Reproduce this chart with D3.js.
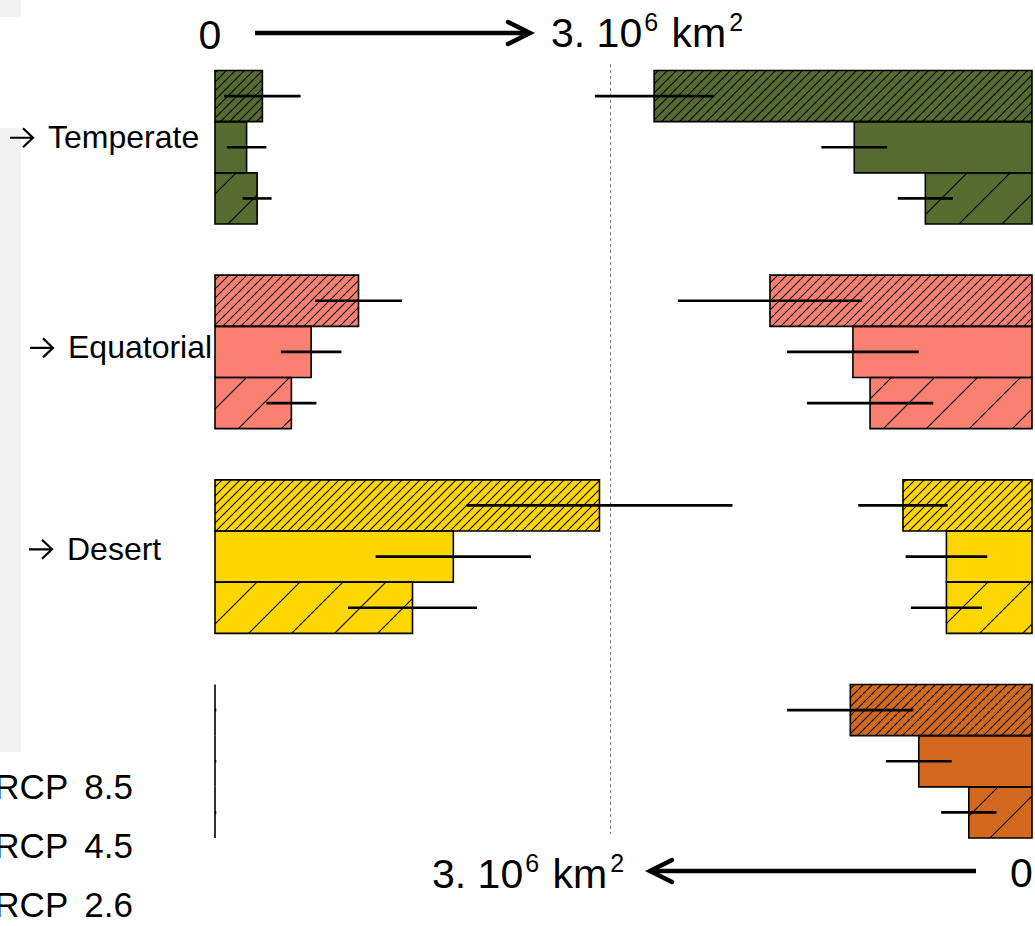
<!DOCTYPE html>
<html lang="en">

<head>
  <meta charset="UTF-8">
  <title>Biome shifts</title>
  <script src="https://cdn.jsdelivr.net/npm/d3@7"></script>
  <style>
    body { margin: 0; background: #fff; }
    text { font-family: "Liberation Sans", Arial, Helvetica, sans-serif; fill: #000; }
  </style>
</head>

<body>
  <script>
    // values in 10^6 km2, one row per biome, columns = RCP 8.5, 4.5, 2.6
    const biomes = ["Temperate", "Equatorial", "Desert", "Other"];
    const biomeLabels = ["Temperate", "Equatorial", "Desert", ""];
    const scenarios = ["RCP 8.5", "RCP 4.5", "RCP 2.6"];
    const colors = ["#556b2f", "#fa8072", "#ffd700", "#d2691e"];

    // left block (gain, grows to the right from 0)
    const leftValues = [
      [0.36, 0.24, 0.32],
      [1.09, 0.73, 0.58],
      [2.92, 1.81, 1.50],
      [0, 0, 0]
    ];
    const leftErrors = [
      [0.29, 0.15, 0.11],
      [0.33, 0.23, 0.19],
      [1.01, 0.59, 0.49],
      [0.01, 0.01, 0.01]
    ];

    // right block (loss, grows to the left from 0)
    const rightValues = [
      [2.87, 1.35, 0.81],
      [1.99, 1.36, 1.23],
      [0.98, 0.65, 0.65],
      [1.38, 0.86, 0.48]
    ];
    const rightErrors = [
      [0.45, 0.25, 0.21],
      [0.70, 0.50, 0.48],
      [0.34, 0.31, 0.27],
      [0.48, 0.25, 0.21]
    ];

    const scaleMax = 3;
    const unitLabel = ["3. 10", "6", " km", "2"];

    const W = 1035, H = 926;
    const svg = d3.select("body").append("svg")
      .attr("width", W)
      .attr("height", H);

    // hatch patterns: dense for RCP 8.5, none for 4.5, sparse for 2.6
    const hatch = [9, 0, 43];
    const defs = svg.append("defs");
    hatch.forEach((s, i) => {
      if (!s) return;
      defs.append("pattern")
        .attr("id", "hatch" + i)
        .attr("patternUnits", "userSpaceOnUse")
        .attr("x", s > 20 ? 22 : 0)
        .attr("width", s)
        .attr("height", s)
        .append("path")
        .attr("d", `M-2,2 l4,-4 M0,${s} l${s},${-s} M${s - 2},${s + 2} l4,-4`)
        .attr("stroke", "#000")
        .attr("stroke-width", 1.1);
    });

    // grey strip at the far left
    svg.append("rect").attr("x", 0).attr("y", 0).attr("width", 21).attr("height", 17).attr("fill", "#f1f1f1");
    svg.append("rect").attr("x", 0).attr("y", 128).attr("width", 21).attr("height", 624).attr("fill", "#f1f1f1");

    const xL = d3.scaleLinear().domain([0, scaleMax]).range([215, 610]);
    const xR = d3.scaleLinear().domain([0, scaleMax]).range([1032, 637]);

    const y0 = d3.scaleBand().domain(biomes).range([70.5, 838]).paddingInner(0.25);
    const y1 = d3.scaleBand().domain(scenarios).range([0, y0.bandwidth()]);

    // divider
    svg.append("line")
      .attr("x1", 610.5).attr("x2", 610.5)
      .attr("y1", 64).attr("y2", 834)
      .attr("stroke", "#777")
      .attr("stroke-width", 1)
      .attr("stroke-dasharray", "3,3");

    function block(values, errors, x) {
      const rows = [];
      biomes.forEach((b, gi) => {
        scenarios.forEach((s, si) => {
          rows.push({ b, s, gi, si, v: values[gi][si], e: errors[gi][si] });
        });
      });

      const g = svg.append("g");
      const bar = d => {
        const top = y0(d.b) + y1(d.s);
        return `M${x(0)},${top}H${x(d.v)}V${top + y1.bandwidth()}H${x(0)}Z`;
      };

      g.selectAll(".fill").data(rows).join("path")
        .attr("d", bar)
        .attr("fill", d => colors[d.gi]);

      g.selectAll(".hatch").data(rows.filter(d => hatch[d.si])).join("path")
        .attr("d", bar)
        .attr("fill", d => `url(#hatch${d.si})`);

      g.selectAll(".outline").data(rows).join("path")
        .attr("d", bar)
        .attr("fill", "none")
        .attr("stroke", "#000")
        .attr("stroke-width", 1.6);

      g.selectAll(".err").data(rows).join("line")
        .attr("x1", d => x(Math.max(0, d.v - d.e)))
        .attr("x2", d => x(d.v + d.e))
        .attr("y1", d => y0(d.b) + y1(d.s) + y1.bandwidth() / 2)
        .attr("y2", d => y0(d.b) + y1(d.s) + y1.bandwidth() / 2)
        .attr("stroke", "#000")
        .attr("stroke-width", 2.6);
    }

    block(leftValues, leftErrors, xL);
    block(rightValues, rightErrors, xR);

    // biome labels with a drawn arrow in front
    const labelX = [10, 30, 29];
    const labelDy = [1, 6.5, 3.2];
    const named = biomes.filter((d, i) => biomeLabels[i]);
    const lab = svg.selectAll(".biome").data(named).join("g")
      .attr("transform", (d, i) => `translate(${labelX[i]},${y0(d) + y0.bandwidth() / 2 + labelDy[i]})`);
    lab.append("path")
      .attr("d", "M0,-10.5H23M13,-20L23,-10.5L13,-1")
      .attr("fill", "none")
      .attr("stroke", "#000")
      .attr("stroke-width", 2.2);
    lab.append("text")
      .attr("x", 38)
      .attr("font-size", 32)
      .text((d, i) => biomeLabels[i]);

    // scenario legend (swatches cut off at the left edge)
    const legendY = [799, 858, 917];
    svg.selectAll(".legend").data(scenarios).join("text")
      .attr("x", 133)
      .attr("y", (d, i) => legendY[i])
      .attr("text-anchor", "end")
      .attr("font-size", 35)
      .attr("word-spacing", 7)
      .text(d => d);

    // scale arrows
    function arrow(xa, xb, y) {
      const dir = Math.sign(xb - xa);
      svg.append("line")
        .attr("x1", xa).attr("x2", xb - dir * 2)
        .attr("y1", y).attr("y2", y)
        .attr("stroke", "#000").attr("stroke-width", 4.5);
      svg.append("path")
        .attr("d", `M${xb - dir * 22},${y - 11}L${xb},${y}L${xb - dir * 22},${y + 11}`)
        .attr("fill", "none")
        .attr("stroke", "#000")
        .attr("stroke-width", 4.5)
        .attr("stroke-linecap", "round")
        .attr("stroke-linejoin", "miter");
    }

    function unitText(x, y) {
      const t = svg.append("text").attr("x", x).attr("y", y).attr("font-size", 41);
      t.append("tspan").text(unitLabel[0]);
      t.append("tspan").attr("dx", 2).attr("dy", -16).attr("font-size", 25).text(unitLabel[1]);
      t.append("tspan").attr("dx", 2).attr("dy", 16).text(unitLabel[2]);
      t.append("tspan").attr("dx", 3).attr("dy", -16).attr("font-size", 25).text(unitLabel[3]);
    }

    svg.append("text").attr("x", 210).attr("y", 49).attr("font-size", 41)
      .attr("text-anchor", "middle").text("0");
    arrow(255, 530, 33);
    unitText(551, 47);

    svg.append("text").attr("x", 1010).attr("y", 887).attr("font-size", 41).text("0");
    arrow(976, 650, 871);
    unitText(432, 888);
  </script>
</body>

</html>
